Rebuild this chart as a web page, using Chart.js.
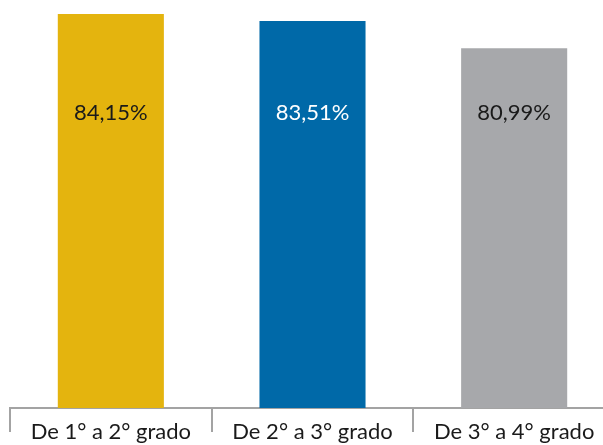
<!DOCTYPE html>
<html>
<head>
<meta charset="utf-8">
<script src="https://cdn.jsdelivr.net/npm/chart.js@4"></script>
<style>
  html, body { margin: 0; padding: 0; background: #fff; overflow: hidden; }
  #wrap { width: 615px; height: 470px; }
</style>
</head>
<body>
<div id="wrap"><canvas id="grados"></canvas></div>
<script>
const categorias = ['De 1° a 2° grado', 'De 2° a 3° grado', 'De 3° a 4° grado'];
const valores = [84.15, 83.51, 80.99];
const colores = ['#e4b40e', '#0069a8', '#a7a8ab'];
const coloresTexto = ['#1a1a1a', '#ffffff', '#1a1a1a'];

// etiqueta con coma decimal
const fmt = (v) => v.toFixed(2).replace('.', ',') + '%';

const etiquetas = {
  id: 'etiquetas',
  afterDatasetsDraw(chart) {
    const ctx = chart.ctx;
    const meta = chart.getDatasetMeta(0);
    const y = chart.scales.y.getPixelForValue(75);
    ctx.save();
    ctx.font = '22px Lato';
    ctx.textAlign = 'center';
    ctx.textBaseline = 'middle';
    meta.data.forEach((bar, i) => {
      ctx.fillStyle = coloresTexto[i];
      ctx.fillText(fmt(valores[i]), bar.x, y);
    });
    ctx.restore();
  }
};

new Chart(document.getElementById('grados'), {
  type: 'bar',
  data: {
    labels: categorias,
    datasets: [{
      data: valores,
      backgroundColor: colores,
      barPercentage: 0.526,
      categoryPercentage: 1
    }]
  },
  options: {
    responsive: true,
    maintainAspectRatio: false,
    animation: false,
    layout: { padding: { left: 10, right: 0, top: 0, bottom: 0 } },
    plugins: { legend: { display: false }, tooltip: { enabled: false } },
    scales: {
      y: { display: false, min: 47.76, max: 85.45 },
      x: {
        offset: true,
        afterFit: (scale) => { scale.height = 62; },
        border: { color: '#a3a3a3', width: 2 },
        grid: {
          offset: true,
          drawOnChartArea: false,
          drawTicks: true,
          tickLength: 24,
          color: '#a3a3a3',
          lineWidth: 2
        },
        ticks: {
          padding: -13,
          color: '#1a1a1a',
          font: { family: 'Lato', size: 22 },
          maxRotation: 0
        }
      }
    }
  },
  plugins: [etiquetas]
});
</script>
</body>
</html>
